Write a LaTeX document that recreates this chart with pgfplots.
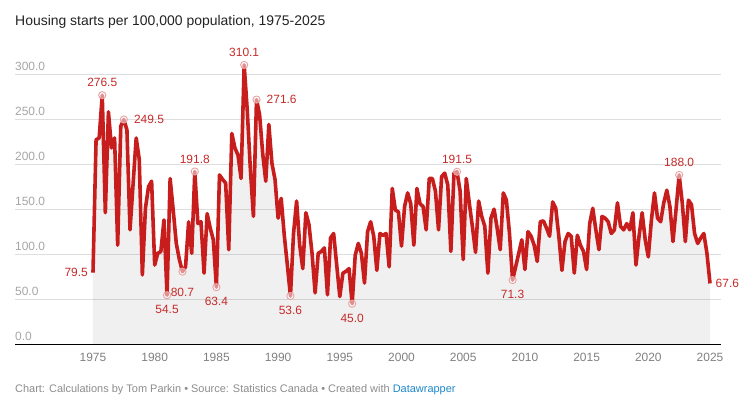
\documentclass[border=0pt]{standalone}
\usepackage{fontspec}
\setmainfont{Liberation Sans}
\usepackage{pgfplots}
\usepackage{pgfplotstable}
\pgfplotsset{compat=1.18}
\definecolor{linered}{HTML}{C71E1D}
\definecolor{labred}{HTML}{C62A2A}
\definecolor{circcol}{HTML}{E7A3A3}
\definecolor{gridcol}{HTML}{DEDEDE}
\definecolor{ylab}{HTML}{A6A6A6}
\definecolor{xlab}{HTML}{808080}
\definecolor{titlecol}{HTML}{222222}
\definecolor{footcol}{HTML}{8C8C8C}
\definecolor{dwblue}{HTML}{1D88C8}
\pgfplotstableread[row sep=\\]{
v\\
79.5\\227\\229\\276.5\\146\\258\\218\\229\\110\\242\\249.5\\238\\127\\178\\229\\205\\77\\151\\175\\181\\
88\\101\\103\\138\\54.5\\184\\149\\112\\94\\80.7\\86\\136\\101\\191.8\\134\\136\\79\\145\\129\\116\\
63.4\\188\\183\\179\\105\\234\\218\\210\\184\\310.1\\260\\195\\142\\271.6\\255\\212\\181\\244\\201\\183\\
140\\162\\121\\88\\53.6\\123\\159\\110\\84\\146\\133\\101\\57\\101\\103\\107\\55\\118\\123\\88\\
53\\79\\81\\84\\45.0\\99\\112\\101\\68\\125\\136\\120\\82\\123\\121\\123\\86\\173\\149\\147\\
109\\153\\168\\156\\110\\173\\156\\153\\127\\184\\184\\170\\127\\186\\190\\177\\103\\190\\191.5\\170\\
94\\184\\156\\130\\102\\159\\142\\131\\79\\140\\150\\129\\105\\168\\160\\123\\71.3\\86\\101\\116\\
83\\125\\120\\110\\92\\136\\137\\129\\120\\158\\151\\120\\82\\114\\123\\120\\79\\121\\110\\103\\
83\\134\\151\\127\\105\\142\\140\\136\\123\\127\\157\\131\\127\\134\\127\\146\\88\\120\\146\\116\\
97\\138\\168\\140\\136\\157\\171\\153\\114\\150\\188.0\\157\\114\\160\\155\\123\\112\\118\\123\\101\\
67.6\\
}\housing
\begin{document}
\begin{tikzpicture}
\path[use as bounding box] (0,0) rectangle (744bp,-397bp);
\node[anchor=base west, inner sep=0pt, font=\fontsize{14}{16}\selectfont, text=titlecol] at (15bp,-25bp) {Housing starts per 100,000 population, 1975-2025};
\node[anchor=base west, inner sep=0pt, font=\fontsize{11}{13}\selectfont, text=footcol] at (15bp,-392bp) {Chart: Calculations by Tom Parkin • Source: Statistics Canada • Created with \textcolor{dwblue}{Datawrapper}};
\begin{axis}[
  at={(15bp,-344.3bp)}, anchor=south west,
  scale only axis, width=706bp, height=270.3bp,
  xmin=1968.68, xmax=2025.89, ymin=0, ymax=300,
  clip=false,
  axis line style={draw=none},
  tick style={draw=none},
  ytick={0,50,...,300},
  ymajorgrids, grid style={gridcol, line width=0.8bp},
  extra y ticks={0}, extra y tick labels={},
  extra y tick style={grid style={black, line width=1.3bp}},
  xtick={1975,1980,...,2025},
  /pgf/number format/assume math mode=true,
  yticklabel style={anchor=south west, inner sep=0pt, yshift=3bp, font=\fontsize{12}{14}\selectfont, text=ylab,
     /pgf/number format/.cd, fixed, fixed zerofill, precision=1},
  xticklabel style={anchor=base, inner sep=0pt, yshift=-17bp, font=\fontsize{12}{14}\selectfont, text=xlab,
     /pgf/number format/.cd, 1000 sep={}},
  every node near coord/.append style={font=\fontsize{12}{14}\selectfont, text=labred, inner sep=0pt},
]
\addplot[draw=none, fill=black, fill opacity=0.06] table[x expr=1975+\coordindex/4, y=v] {\housing} \closedcycle;
\addplot[linered, line width=3.6bp, line join=round] table[x expr=1975+\coordindex/4, y=v] {\housing};
\addplot[only marks, mark=*, mark size=3.6bp, mark options={draw=circcol, fill=white, fill opacity=0.5, line width=0.9bp}] coordinates {
(1975.75,276.5) (1977.5,249.5) (1981,54.5) (1982.25,80.7) (1983.25,191.8) (1985,63.4) (1987.25,310.1) (1988.25,271.6) (1991,53.6) (1996,45.0) (2004.5,191.5) (2009,71.3) (2022.5,188.0)};
% labels above
\addplot[draw=none, mark=none, nodes near coords, point meta=explicit symbolic,
  every node near coord/.append style={anchor=south, yshift=8bp}] table[meta=lab, row sep=\\] {
x y lab\\ 1975.75 276.5 276.5\\ 1983.25 191.8 191.8\\ 1987.25 310.1 310.1\\ 2004.5 191.5 191.5\\ 2022.5 188.0 188.0\\};
% labels below
\addplot[draw=none, mark=none, nodes near coords, point meta=explicit symbolic,
  every node near coord/.append style={anchor=north, yshift=-10bp}] table[meta=lab, row sep=\\] {
x y lab\\ 1981 54.5 54.5\\ 1985 63.4 63.4\\ 1991 53.6 53.6\\ 1996 45.0 45.0\\ 2009 71.3 71.3\\};
\addplot[draw=none, mark=none, nodes near coords, point meta=explicit symbolic,
  every node near coord/.append style={anchor=north, yshift=-16bp}] table[meta=lab, row sep=\\] {
x y lab\\ 1982.25 80.7 80.7\\};
% labels right
\addplot[draw=none, mark=none, nodes near coords, point meta=explicit symbolic,
  every node near coord/.append style={anchor=west, xshift=10bp}] table[meta=lab, row sep=\\] {
x y lab\\ 1977.5 249.5 249.5\\ 1988.25 271.6 271.6\\};
\addplot[draw=none, mark=none, nodes near coords, point meta=explicit symbolic,
  every node near coord/.append style={anchor=west, xshift=5.5bp}] table[meta=lab, row sep=\\] {
x y lab\\ 2025 67.6 67.6\\};
% label left
\addplot[draw=none, mark=none, nodes near coords, point meta=explicit symbolic,
  every node near coord/.append style={anchor=east, xshift=-5bp}] table[meta=lab, row sep=\\] {
x y lab\\ 1975 79.5 79.5\\};
\end{axis}
\end{tikzpicture}
\end{document}
